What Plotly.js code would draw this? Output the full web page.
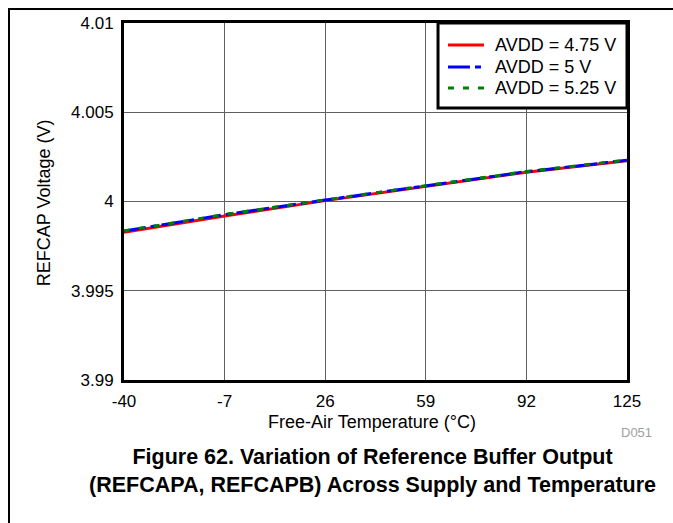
<!DOCTYPE html>
<html>
<head>
<meta charset="utf-8">
<script src="https://cdn.plot.ly/plotly-3.0.1.min.js"></script>
<style>
  html, body { margin: 0; padding: 0; background: #fff; }
  #wrap { position: relative; width: 673px; height: 523px; }
  #chart { position: absolute; left: 0; top: 0; width: 673px; height: 523px; }
  #frame { position: absolute; left: 8px; top: 8px; right: 0; bottom: 0;
           border-left: 2px solid #000; border-top: 2px solid #000; pointer-events: none; }
</style>
</head>
<body>
<div id="wrap">
  <div id="chart"></div>
  <div id="frame"></div>
</div>
<script>
const temperature = [-40, -7, 26, 59, 92, 125];
const avdd475 = [3.99827, 3.99919, 4.00005, 4.00083, 4.00164, 4.00229];
const avdd500 = [3.99834, 3.99926, 4.00008, 4.00089, 4.00167, 4.00231];
const avdd525 = [3.99835, 3.99927, 4.00009, 4.00090, 4.00168, 4.00232];
const seriesNames = ['AVDD = 4.75 V', 'AVDD = 5 V', 'AVDD = 5.25 V'];
const xTicks = [-40, -7, 26, 59, 92, 125];
const yTicks = [3.99, 3.995, 4, 4.005, 4.01];
const yTickText = ['3.99', '3.995', '4', '4.005', '4.01'];

const font = 'Liberation Sans, Arial, Helvetica, sans-serif';
const colors = ['#ff0000', '#0000ff', '#008000'];
const dashes = ['solid', '22px,5px,6px,5px', '6px,9px'];
const seriesY = [avdd475, avdd500, avdd525];

const traces = seriesY.map((ys, i) => ({
  x: temperature, y: ys, name: seriesNames[i], mode: 'lines',
  line: { color: colors[i], width: 3, dash: dashes[i] }
}));

// Manual legend (to match the compact row spacing of the reference)
const legBox = { x0: 0.6243, x1: 1, y0: 0.7619, y1: 1 };
const legRows = [0.9384, 0.8768, 0.8179];
const shapes = [
  { type: 'rect', xref: 'paper', yref: 'paper', layer: 'above',
    x0: legBox.x0, x1: legBox.x1, y0: legBox.y0, y1: legBox.y1,
    fillcolor: '#ffffff', line: { color: '#000', width: 3 } }
];
const annotations = [];
seriesNames.forEach((nm, i) => {
  shapes.push({ type: 'line', xref: 'paper', yref: 'paper', layer: 'above',
    x0: 0.6441, x1: 0.7157, y0: legRows[i], y1: legRows[i],
    line: { color: colors[i], width: 3, dash: dashes[i] } });
  annotations.push({ xref: 'paper', yref: 'paper', x: 0.7336, y: legRows[i],
    xanchor: 'left', yanchor: 'middle', text: nm, showarrow: false,
    font: { family: font, size: 18, color: '#000' } });
});

annotations.push(
  { xref: 'paper', yref: 'paper', x: 0.494, y: -0.1176, xanchor: 'center', yanchor: 'middle',
    text: 'Free-Air Temperature (°C)', showarrow: false,
    font: { family: font, size: 18, color: '#000' } },
  { xref: 'paper', yref: 'paper', x: -0.159, y: 0.495, xanchor: 'center', yanchor: 'middle',
    text: 'REFCAP Voltage (V)', showarrow: false, textangle: -90,
    font: { family: font, size: 18, color: '#000' } },
  { xref: 'paper', yref: 'paper', x: 1.0537, y: -0.146, xanchor: 'right', yanchor: 'middle',
    text: 'D051', showarrow: false, font: { family: font, size: 13, color: '#a0a0a0' } },
  { xref: 'paper', yref: 'paper', x: 0.494, y: -0.255, xanchor: 'center', yanchor: 'middle',
    text: '<b>Figure 62. Variation of Reference Buffer Output</b><br><b>(REFCAPA, REFCAPB) Across Supply and Temperature</b>',
    showarrow: false, align: 'center',
    font: { family: font, size: 21.5, color: '#000' } }
);

const layout = {
  width: 673, height: 523,
  margin: { l: 124, r: 46, t: 23, b: 143 },
  paper_bgcolor: '#ffffff', plot_bgcolor: '#ffffff',
  font: { family: font, size: 17, color: '#000' },
  showlegend: false,
  xaxis: {
    range: [-40, 125], tickvals: xTicks, ticktext: xTicks.map(String),
    showgrid: true, gridcolor: '#606060', gridwidth: 1,
    showline: true, linecolor: '#000', linewidth: 3, mirror: true,
    ticks: '', zeroline: false, ticklabelstandoff: 4,
    tickfont: { family: font, size: 17, color: '#000' }
  },
  yaxis: {
    range: [3.99, 4.01], tickvals: yTicks, ticktext: yTickText,
    showgrid: true, gridcolor: '#606060', gridwidth: 1,
    showline: true, linecolor: '#000', linewidth: 3, mirror: true,
    ticks: '', zeroline: false, ticklabelstandoff: 4,
    tickfont: { family: font, size: 17, color: '#000' }
  },
  shapes: shapes,
  annotations: annotations
};

Plotly.newPlot('chart', traces, layout, { displayModeBar: false, staticPlot: true });
</script>
</body>
</html>
